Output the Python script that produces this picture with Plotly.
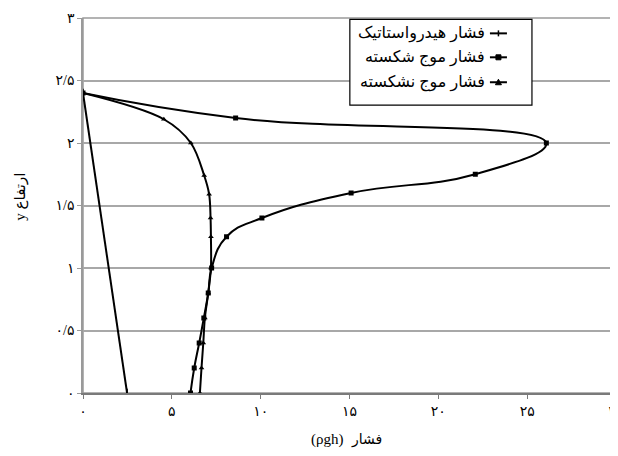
import plotly.graph_objects as go

# ---- data ----
hydro_x = [0.0, 2.48]
hydro_y = [2.40, 0.0]

broken_x = [0.0, 8.59, 26.08, 22.08, 15.09, 10.07, 8.08, 7.24, 7.05, 6.80, 6.54, 6.26, 6.05]
broken_y = [2.40, 2.20, 2.00, 1.75, 1.60, 1.40, 1.25, 1.00, 0.80, 0.60, 0.40, 0.20, 0.0]

nonbroken_x = [0.0, 4.55, 6.07, 6.82, 7.10, 7.18, 7.20, 7.20, 7.05, 6.86, 6.77, 6.67, 6.58]
nonbroken_y = [2.40, 2.19, 2.00, 1.74, 1.59, 1.40, 1.25, 1.00, 0.80, 0.60, 0.40, 0.20, 0.0]

x_tickvals = [0, 5, 10, 15, 20, 25, 30]
x_ticktext = ["۰", "۵", "۱۰", "۱۵", "۲۰", "۲۵", "۳۰"]
y_tickvals = [0, 0.5, 1, 1.5, 2, 2.5, 3]
y_ticktext = ["۰", "۰/۵", "۱", "۱/۵", "۲", "۲/۵", "۳"]

legend_names = ["فشار هیدرواستاتیک", "فشار موج شکسته", "فشار موج نشکسته"]
x_title_word = "فشار"
x_title_unit = "(ρgh)"
y_title = "y ارتفاع"

# page geometry (the page body has an 8px margin)
OFF = 8
PAGE_W, PAGE_H = 618, 456
L, R, T, B = 83.3, 616.0, 17.6, 393.5   # plot area in page pixels
FONT = "Liberation Serif, DejaVu Sans, serif"

def px(xp):
    return (xp - L) / (R - L)

def py(yp):
    return (B - yp) / (B - T)

fig = go.Figure()
fig.add_trace(go.Scatter(x=hydro_x, y=hydro_y, mode="lines+markers", name=legend_names[0],
                         line=dict(color="black", width=2),
                         marker=dict(symbol="line-ns", size=6, line=dict(color="black", width=1.5))))
fig.add_trace(go.Scatter(x=broken_x, y=broken_y, mode="lines+markers", name=legend_names[1],
                         line=dict(color="black", width=2, shape="spline", smoothing=1.3),
                         marker=dict(symbol="square", size=5, color="black")))
fig.add_trace(go.Scatter(x=nonbroken_x, y=nonbroken_y, mode="lines+markers", name=legend_names[2],
                         line=dict(color="black", width=2, shape="spline", smoothing=1.0),
                         marker=dict(symbol="triangle-up", size=5, color="black")))

shapes = []
annotations = []
# plot frame
shapes.append(dict(type="rect", xref="paper", yref="paper", x0=0, x1=1, y0=0, y1=1,
                   line=dict(color="#9a9a9a", width=1.5), layer="below"))
# custom RTL legend
shapes.append(dict(type="rect", xref="paper", yref="paper", x0=px(350), x1=px(532), y0=py(105), y1=py(19),
                   line=dict(color="black", width=1.2), fillcolor="white"))
rows = [33, 57, 82]
for i, (name, ry) in enumerate(zip(legend_names, rows)):
    annotations.append(dict(xref="paper", yref="paper", x=px(487), y=py(ry), text=name, showarrow=False,
                            xanchor="right", yanchor="middle", font=dict(family=FONT, size=16, color="black")))
    shapes.append(dict(type="line", xref="paper", yref="paper", x0=px(490), x1=px(507), y0=py(ry), y1=py(ry),
                       line=dict(color="black", width=2)))
    cx = 498.5
    if i == 0:
        shapes.append(dict(type="line", xref="paper", yref="paper", x0=px(cx), x1=px(cx), y0=py(ry - 3), y1=py(ry + 3),
                           line=dict(color="black", width=1.5)))
    elif i == 1:
        shapes.append(dict(type="rect", xref="paper", yref="paper", x0=px(cx - 2.5), x1=px(cx + 2.5),
                           y0=py(ry + 2.5), y1=py(ry - 2.5), line=dict(color="black", width=1), fillcolor="black"))
    else:
        path = f"M {px(cx - 3)},{py(ry + 2.5)} L {px(cx + 3)},{py(ry + 2.5)} L {px(cx)},{py(ry - 3)} Z"
        shapes.append(dict(type="path", xref="paper", yref="paper", path=path,
                           line=dict(color="black", width=1), fillcolor="black"))

# axis titles (x title split so the RTL order matches: unit on the left, word on the right)
annotations.append(dict(xref="paper", yref="paper", x=px(345), y=py(440), text=x_title_unit, showarrow=False,
                        xanchor="right", yanchor="middle", font=dict(family=FONT, size=15, color="black")))
annotations.append(dict(xref="paper", yref="paper", x=px(349), y=py(441), text=x_title_word, showarrow=False,
                        xanchor="left", yanchor="middle", font=dict(family=FONT, size=14, color="black")))
annotations.append(dict(xref="paper", yref="paper", x=px(21), y=py(197), text=y_title, showarrow=False,
                        textangle=-90, xanchor="center", yanchor="middle",
                        font=dict(family=FONT, size=15, color="black")))

fig.update_layout(
    width=PAGE_W - OFF, height=PAGE_H - OFF,
    margin=dict(l=L - OFF, r=PAGE_W - R, t=T - OFF, b=PAGE_H - B, pad=0, autoexpand=False),
    paper_bgcolor="white", plot_bgcolor="white",
    showlegend=False,
    shapes=shapes, annotations=annotations,
    font=dict(family=FONT, size=13, color="black"),
    xaxis=dict(range=[0, 30], tickvals=x_tickvals, ticktext=x_ticktext, showgrid=False, zeroline=False,
               showline=True, linecolor="#7a7a7a", linewidth=2, ticks="outside", ticklen=4,
               tickcolor="#7a7a7a", tickfont=dict(family=FONT, size=14, color="black"),
               automargin=False, ticklabeloverflow="allow"),
    yaxis=dict(range=[0, 3], tickvals=y_tickvals, ticktext=y_ticktext, showgrid=True, gridcolor="#a8a8a8",
               gridwidth=1.5, zeroline=False, showline=True, linecolor="#9a9a9a", linewidth=1.5,
               ticks="outside", ticklen=4, tickcolor="#9a9a9a",
               tickfont=dict(family=FONT, size=14, color="black"),
               automargin=False, ticklabeloverflow="allow"),
)

fig.write_html("out.html")
